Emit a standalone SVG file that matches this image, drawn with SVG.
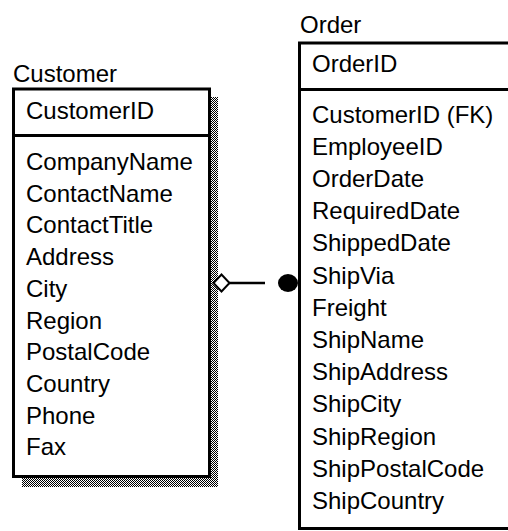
<svg xmlns="http://www.w3.org/2000/svg" width="508" height="531" viewBox="0 0 508 531">
  <style>
    text { font-family: "Liberation Sans", Arial, sans-serif; font-size: 24px; fill: #000; }
    .box { fill: #fff; stroke: #000; stroke-width: 3; }
    .sep { stroke: #000; stroke-width: 3; }
    .link { stroke: #000; stroke-width: 2.5; fill: none; }
  </style>
  <defs>
    <!-- dithered drop shadow -->
    <pattern id="dither" width="2" height="2" patternUnits="userSpaceOnUse">
      <rect width="2" height="2" fill="#fff"/>
      <rect x="0" y="0" width="1" height="1" fill="#000"/>
      <rect x="1" y="1" width="1" height="1" fill="#000"/>
    </pattern>
  </defs>
  <rect width="508" height="531" fill="#fff"/>

  <g id="customer">
    <rect x="211" y="97" width="7" height="390" fill="url(#dither)"/>
    <rect x="22" y="478" width="196" height="9" fill="url(#dither)"/>
    <text x="13" y="82">Customer</text>
    <rect class="box" x="13.5" y="89" width="196" height="387.5"/>
    <line class="sep" x1="13.5" y1="135.5" x2="209.5" y2="135.5"/>
    <text x="26" y="119">CustomerID</text>
    <text x="26" y="170">CompanyName</text>
    <text x="26" y="201.7">ContactName</text>
    <text x="26" y="233.4">ContactTitle</text>
    <text x="26" y="265.1">Address</text>
    <text x="26" y="296.8">City</text>
    <text x="26" y="328.5">Region</text>
    <text x="26" y="360.2">PostalCode</text>
    <text x="26" y="391.9">Country</text>
    <text x="26" y="423.6">Phone</text>
    <text x="26" y="455.3">Fax</text>
  </g>

  <g id="order">
    <text x="300" y="33">Order</text>
    <rect class="box" x="299.5" y="43" width="220" height="485.5"/>
    <line class="sep" x1="299.5" y1="89.5" x2="519.5" y2="89.5"/>
    <text x="312" y="72">OrderID</text>
    <text x="312" y="122.5">CustomerID (FK)</text>
    <text x="312" y="154.7">EmployeeID</text>
    <text x="312" y="186.9">OrderDate</text>
    <text x="312" y="219.1">RequiredDate</text>
    <text x="312" y="251.3">ShippedDate</text>
    <text x="312" y="283.5">ShipVia</text>
    <text x="312" y="315.7">Freight</text>
    <text x="312" y="347.9">ShipName</text>
    <text x="312" y="380.1">ShipAddress</text>
    <text x="312" y="412.3">ShipCity</text>
    <text x="312" y="444.5">ShipRegion</text>
    <text x="312" y="476.7">ShipPostalCode</text>
    <text x="312" y="508.9">ShipCountry</text>
  </g>

  <g id="connectors">
    <!-- one Customer to many Orders -->
    <line class="link" x1="229" y1="283" x2="265" y2="283"/>
    <polygon points="213.5,283 221.5,274.5 229.5,283 221.5,291.5" fill="#fff" stroke="#000" stroke-width="2"/>
    <ellipse cx="288" cy="283" rx="10" ry="9" fill="#000"/>
  </g>
</svg>
